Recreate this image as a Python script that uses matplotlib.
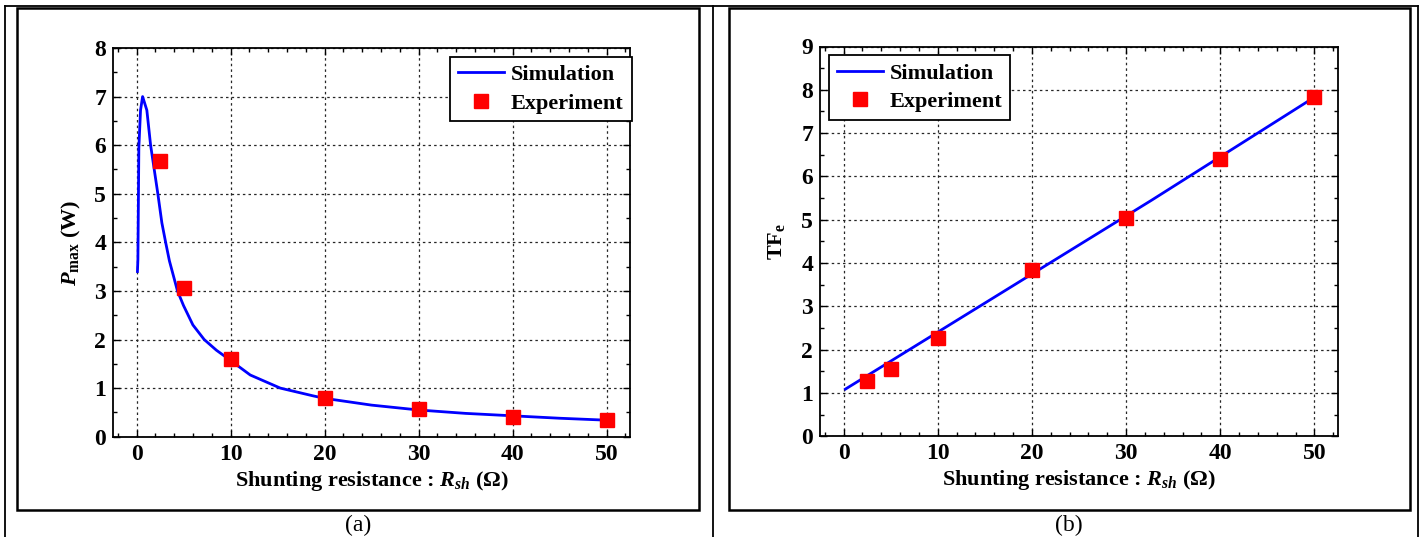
import matplotlib
matplotlib.use("Agg")
import matplotlib.pyplot as plt
from matplotlib.lines import Line2D
from matplotlib.patches import Rectangle
from matplotlib.ticker import MultipleLocator

plt.rcParams['font.family'] = ['Liberation Serif', 'DejaVu Serif']
plt.rcParams['font.weight'] = 'bold'
plt.rcParams['axes.labelweight'] = 'bold'
plt.rcParams['mathtext.fontset'] = 'custom'
plt.rcParams['mathtext.rm'] = 'Liberation Serif:bold'
plt.rcParams['mathtext.bf'] = 'Liberation Serif:bold'
plt.rcParams['mathtext.it'] = 'Liberation Serif:italic:bold'

# panel (a): max power vs shunting resistance
sim_r_a = [0.1, 0.15, 0.25, 0.43, 0.65, 1.1, 1.5, 1.84, 2.27, 2.7, 3.1, 3.5, 4.36, 5.0,
           6.0, 7.2, 8.5, 10, 12.1, 15.3, 18.8, 20, 25, 30, 35, 40, 45, 50]
sim_p = [3.4, 3.65, 5.95, 6.72, 7.0, 6.72, 6.0, 5.56, 5.0, 4.4, 4.0, 3.62, 3.0, 2.7,
         2.3, 2.0, 1.78, 1.57, 1.27, 1.0, 0.84, 0.79, 0.65, 0.55, 0.48, 0.43, 0.38, 0.34]
exp_r = [2.5, 5, 10, 20, 30, 40, 50]
exp_p = [5.68, 3.07, 1.59, 0.80, 0.56, 0.41, 0.34]

# panel (b): TFe vs shunting resistance
sim_r_b = [0.2, 32.7, 50]
sim_tf = [1.09, 5.45, 7.83]
exp_tf = [1.28, 1.55, 2.28, 3.84, 5.05, 6.40, 7.83]

W, H = 1421, 537
fig = plt.figure(figsize=(W / 100, H / 100), dpi=100)


def px(x0, y0, x1, y1):
    return [x0 / W, 1 - y1 / H, (x1 - x0) / W, (y1 - y0) / H]


def style(ax, ymax):
    ax.set_xlim(-2.5, 52.5)
    ax.set_ylim(0, ymax)
    ax.xaxis.set_major_locator(MultipleLocator(10))
    ax.xaxis.set_minor_locator(MultipleLocator(2))
    ax.yaxis.set_major_locator(MultipleLocator(1))
    ax.yaxis.set_minor_locator(MultipleLocator(0.5))
    ax.tick_params(which='both', direction='in', top=True, right=True, labelsize=17)
    ax.tick_params(which='major', length=5, width=1, pad=5)
    ax.tick_params(which='minor', length=3, width=1)
    ax.grid(True, which='major', color='0.15', linestyle=(0, (2, 2.5)), linewidth=0.9)
    for s in ax.spines.values():
        s.set_linewidth(1.3)
    ax.set_xlabel('Shunting resistance : $R_{sh}$ (\u03a9)', fontsize=16, labelpad=3)


ax1 = fig.add_axes(px(113, 48, 630, 436.7))
ax1.plot(sim_r_a, sim_p, color='#0000ff', lw=2, label='Simulation')
ax1.plot(exp_r, exp_p, 's', color='#ff0000', ms=10, label='Experiment', zorder=3)
style(ax1, 8)
ax1.set_ylabel('$P_{\\mathrm{max}}$ (W)', fontsize=16, labelpad=8)
ax1.legend(loc='upper right', bbox_to_anchor=(1.003, 0.977), borderaxespad=0,
           fancybox=False, edgecolor='black', framealpha=1, fontsize=16,
           handlelength=2.1, handletextpad=0.3, labelspacing=0.35, borderpad=0.35,
           numpoints=1).get_frame().set_linewidth(1.3)

ax2 = fig.add_axes(px(820, 46.5, 1338, 436.3))
ax2.plot(sim_r_b, sim_tf, color='#0000ff', lw=2, label='Simulation')
ax2.plot(exp_r, exp_tf, 's', color='#ff0000', ms=10, label='Experiment', zorder=3)
style(ax2, 9)
ax2.set_ylabel('TF$_{\\mathrm{e}}$', fontsize=16, labelpad=10)
ax2.legend(loc='upper left', bbox_to_anchor=(0.017, 0.977), borderaxespad=0,
           fancybox=False, edgecolor='black', framealpha=1, fontsize=16,
           handlelength=2.1, handletextpad=0.3, labelspacing=0.35, borderpad=0.35,
           numpoints=1).get_frame().set_linewidth(1.3)

# table frame and panel boxes
for x in [5, 713, 1418]:
    fig.add_artist(Line2D([x / W, x / W], [0, 1 - 6 / H], color='black', lw=1.3))
fig.add_artist(Line2D([5 / W, 1418 / W], [1 - 6 / H, 1 - 6 / H], color='black', lw=1.3))
for x0, x1 in [(17, 699), (729, 1410)]:
    fig.add_artist(Rectangle((x0 / W, 1 - 510 / H), (x1 - x0) / W, 502 / H,
                             fill=False, edgecolor='black', lw=1.8))

fig.text(358 / W, 1 - 525 / H, '(a)', ha='center', va='center', fontsize=17, fontweight='normal')
fig.text(1069 / W, 1 - 525 / H, '(b)', ha='center', va='center', fontsize=17, fontweight='normal')

fig.savefig('out.png', dpi=100)
